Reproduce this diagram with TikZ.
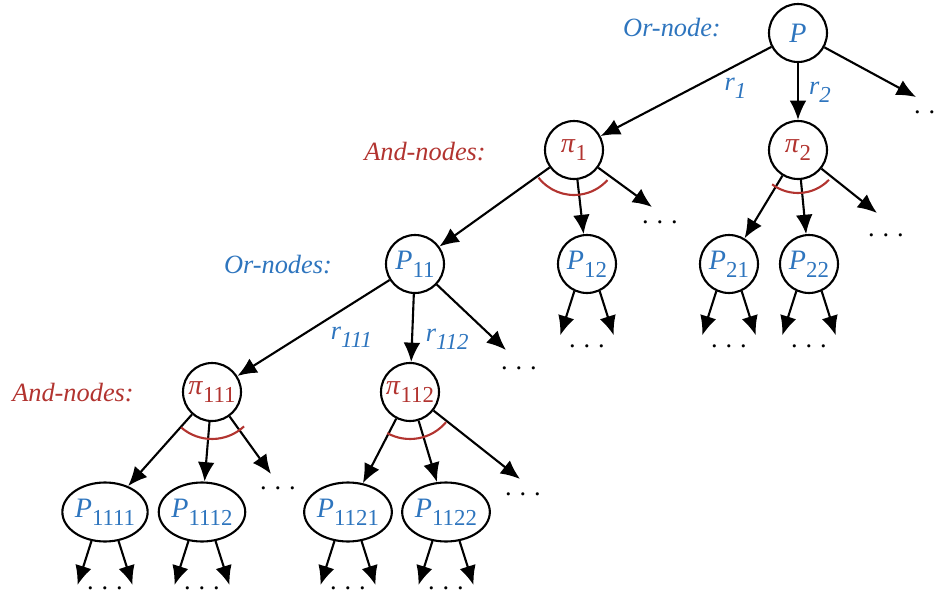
\documentclass[tikz,border=0pt]{standalone}
\usepackage{fontspec}
\setmainfont{Liberation Serif}
\usetikzlibrary{arrows.meta,shapes.geometric}

\definecolor{orblue}{RGB}{46,117,190}
\definecolor{andred}{RGB}{178,52,48}
\newcommand{\sub}[1]{\raisebox{-4.5pt}{\fontsize{13}{14}\selectfont #1}}
\newcommand{\spdots}{.\kern4.5pt.\kern4.5pt.}

\begin{document}
\begin{tikzpicture}[x=0.02cm,y=-0.02cm,line width=1.2pt,
    >={Latex[length=11pt,width=9.5pt]},
    every node/.style={font=\fontsize{15}{18}\selectfont},
    ornode/.style={draw,circle,minimum size=1.16cm,inner sep=0pt,text=orblue,font=\fontsize{16}{18}\selectfont},
    andnode/.style={ornode,text=andred},
    longnode/.style={ornode,ellipse,minimum width=1.58cm,minimum height=1.18cm},
    orlabel/.style={text=orblue,font=\itshape\fontsize{15}{18}\selectfont},
    andlabel/.style={orlabel,text=andred},
    andarc/.style={andred}]
    \clip (0,0) rectangle (938,592);

    % levels
    \node[orlabel] (l0) at (672,28) {Or-node:};
    \node[andlabel] (l1) at (425,152) {And-nodes:};
    \node[orlabel] (l2) at (278,265) {Or-nodes:};
    \node[andlabel] (l3) at (73,393) {And-nodes:};

    \node[ornode] (P) at (798,33) {\textit{P}};
    \node[andnode] (pi1) at (574,150) {\textit{π}\sub{1}};
    \node[andnode] (pi2) at (798,150) {\textit{π}\sub{2}};
    \node[ornode] (P11) at (415,264) {\textit{P}\sub{11}};
    \node[ornode] (P12) at (587,264) {\textit{P}\sub{12}};
    \node[ornode] (P21) at (729,264) {\textit{P}\sub{21}};
    \node[ornode] (P22) at (809,264) {\textit{P}\sub{22}};
    \node[andnode] (pi111) at (212,392) {\textit{π}\sub{111}};
    \node[andnode] (pi112) at (410,392) {\textit{π}\sub{112}};
    \node[longnode] (P1111) at (105,512) {\textit{P}\sub{1111}};
    \node[longnode] (P1112) at (202,512) {\textit{P}\sub{1112}};
    \node[longnode] (P1121) at (348,512) {\textit{P}\sub{1121}};
    \node[longnode] (P1122) at (446,512) {\textit{P}\sub{1122}};

    % open ends
    \coordinate (e0) at (916,97);
    \coordinate (e1) at (652,207);
    \coordinate (e2) at (877,213);
    \coordinate (e3) at (506,350);
    \coordinate (e4) at (271,474);
    \coordinate (e5) at (520,479);
    \node (d0) at (932,112) {\spdots};
    \node (d1) at (660,222) {\spdots};
    \node (d2) at (886,235) {\spdots};
    \node (d3) at (519,368) {\spdots};
    \node (d4) at (278,488) {\spdots};
    \node (d5) at (523,494) {\spdots};

    \draw[->] (P) -- node[orlabel,pos=0.21,yshift=-13pt] (r1) {r\sub{1}} (pi1);
    \draw[->] (P) -- node[orlabel,pos=0.52,xshift=12.5pt] (r2) {r\sub{2}} (pi2);
    \draw[->] (P) -- (e0);
    \draw[->] (pi1) -- (P11);
    \draw[->] (pi1) -- (P12);
    \draw[->] (pi1) -- (e1);
    \draw[->] (pi2) -- (P21);
    \draw[->] (pi2) -- (P22);
    \draw[->] (pi2) -- (e2);
    \draw[->] (P11) -- node[orlabel,pos=0.25,yshift=-19pt] (r111) {r\sub{111}} (pi111);
    \draw[->] (P11) -- node[orlabel,pos=0.67,xshift=20pt] (r112) {r\sub{112}} (pi112);
    \draw[->] (P11) -- (e3);
    \draw[->] (pi111) -- (P1111);
    \draw[->] (pi111) -- (P1112);
    \draw[->] (pi111) -- (e4);
    \draw[->] (pi112) -- (P1121);
    \draw[->] (pi112) -- (P1122);
    \draw[->] (pi112) -- (e5);

    % and-arcs
    \draw[andarc] ([shift={(218:0.9cm)}]pi1.center) arc[start angle=218,end angle=318,radius=0.9cm];
    \draw[andarc] ([shift={(233:0.86cm)}]pi2.center) arc[start angle=233,end angle=316,radius=0.86cm];
    \draw[andarc] ([shift={(229:0.94cm)}]pi111.center) arc[start angle=229,end angle=313,radius=0.94cm];
    \draw[andarc] ([shift={(241:0.94cm)}]pi112.center) arc[start angle=241,end angle=320,radius=0.94cm];

    \foreach \n/\dy in {P12/82,P21/82,P22/82,P1111/76,P1112/76,P1121/76,P1122/76} {
        \draw[->] (\n.245) -- ++(-14,44);
        \draw[->] (\n.295) -- ++(14,44);
        \path (\n) ++(0,\dy) node (d\n) {\spdots};
    }
\end{tikzpicture}
\end{document}
